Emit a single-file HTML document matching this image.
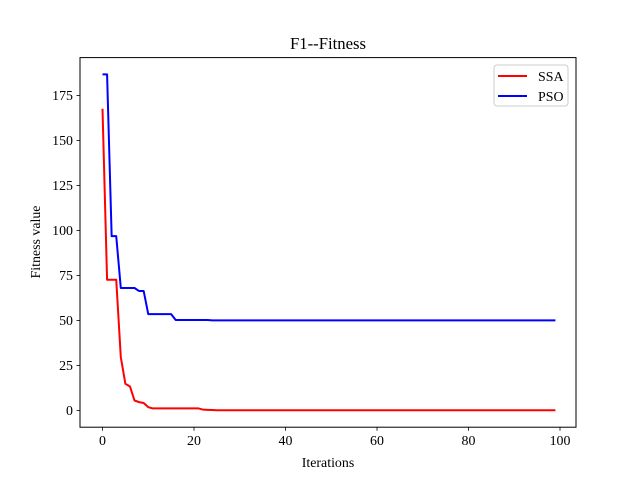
<!DOCTYPE html>
<html><head><meta charset="utf-8">
<style>
html,body{margin:0;padding:0;background:#fff;}
svg{display:block;font-family:"Liberation Serif","DejaVu Serif",serif;}
</style></head>
<body>
<svg id="chart" width="640" height="480" viewBox="0 0 640 480">
  <rect x="0" y="0" width="640" height="480" fill="#fff"/>
  <text x="328" y="49" font-size="16.7" text-anchor="middle">F1--Fitness</text>
  <g id="plot"></g>
  <rect x="80" y="57.6" width="496" height="369.6" fill="none" stroke="#000" stroke-width="1"/>
  <text x="328" y="467" font-size="13.9" text-anchor="middle">Iterations</text>
  <text transform="translate(40,242) rotate(-90)" font-size="13.9" text-anchor="middle">Fitness value</text>
  <g>
    <rect x="494" y="65" width="74" height="41" rx="3" fill="#fff" stroke="#ccc"/>
    <line x1="498" y1="76" x2="527" y2="76" stroke="#ff0000" stroke-width="2"/>
    <text x="538" y="81" font-size="13.9">SSA</text>
    <line x1="498" y1="96" x2="527" y2="96" stroke="#0000ff" stroke-width="2"/>
    <text x="538" y="101" font-size="13.9">PSO</text>
  </g>
</svg>
<script>
const xTicks = [0, 20, 40, 60, 80, 100];
const yTicks = [0, 25, 50, 75, 100, 125, 150, 175];
const ssaValues = [167.6,72.6,72.6,72.6,29.6,14.8,13.3,5.5,4.6,4.1,
1.8,1.1,1.1,1.1,1.1,1.1,1.1,1.1,1.1,1.1,
1.1,1.1,0.4,0.3,0.2,0.1,0.05,0.05,0.05,0.05,
0.05,0.05,0.05,0.05,0.05,0.05,0.05,0.05,0.05,0.05,
0.05,0.05,0.05,0.05,0.05,0.05,0.05,0.05,0.05,0.05,
0.05,0.05,0.05,0.05,0.05,0.05,0.05,0.05,0.05,0.05,
0.05,0.05,0.05,0.05,0.05,0.05,0.05,0.05,0.05,0.05,
0.05,0.05,0.05,0.05,0.05,0.05,0.05,0.05,0.05,0.05,
0.05,0.05,0.05,0.05,0.05,0.05,0.05,0.05,0.05,0.05,
0.05,0.05,0.05,0.05,0.05,0.05,0.05,0.05,0.05,0.05];
const psoValues = [186.7,186.7,96.8,96.8,68,68,68,68,66.3,66.3,
53.5,53.5,53.5,53.5,53.5,53.5,50.2,50.2,50.2,50.2,
50.2,50.2,50.2,50.2,50,50,50,50,50,50,
50,50,50,50,50,50,50,50,50,50,
50,50,50,50,50,50,50,50,50,50,
50,50,50,50,50,50,50,50,50,50,
50,50,50,50,50,50,50,50,50,50,
50,50,50,50,50,50,50,50,50,50,
50,50,50,50,50,50,50,50,50,50,
50,50,50,50,50,50,50,50,50,50];

const NS = "http://www.w3.org/2000/svg";
const plot = document.getElementById("plot");
function xs(v){ return 102.5 + v * 4.575; }
function ys(v){ return 410.4 - v * 1.8; }
function mk(tag, attrs){ const e = document.createElementNS(NS, tag); for (const k in attrs) e.setAttribute(k, attrs[k]); plot.appendChild(e); return e; }

xTicks.forEach(t => {
  const l = mk("line", {x1: xs(t), x2: xs(t), y1: 427.2, y2: 430.7, stroke: "#000", "stroke-width": 0.8});
  
  
  const tx = mk("text", {x: xs(t), y: 445, "font-size": 13.9, "text-anchor": "middle"});
  tx.textContent = t;
  
  
});
yTicks.forEach(t => {
  const l = mk("line", {x1: 76.5, x2: 80, y1: ys(t), y2: ys(t), stroke: "#000", "stroke-width": 0.8});
  
  
  const tx = mk("text", {x: 73, y: ys(t) + 4.8, "font-size": 13.9, "text-anchor": "end"});
  tx.textContent = t;
  
  
});
function series(vals, color, name){
  const p = mk("polyline", {points: vals.map((v,i)=>xs(i)+","+ys(v)).join(" "), fill: "none", stroke: color, "stroke-width": 2, "stroke-linejoin": "round"});
  
  
}
series(ssaValues, "#ff0000", "ssa-line");
series(psoValues, "#0000ff", "pso-line");
</script>
</body></html>
